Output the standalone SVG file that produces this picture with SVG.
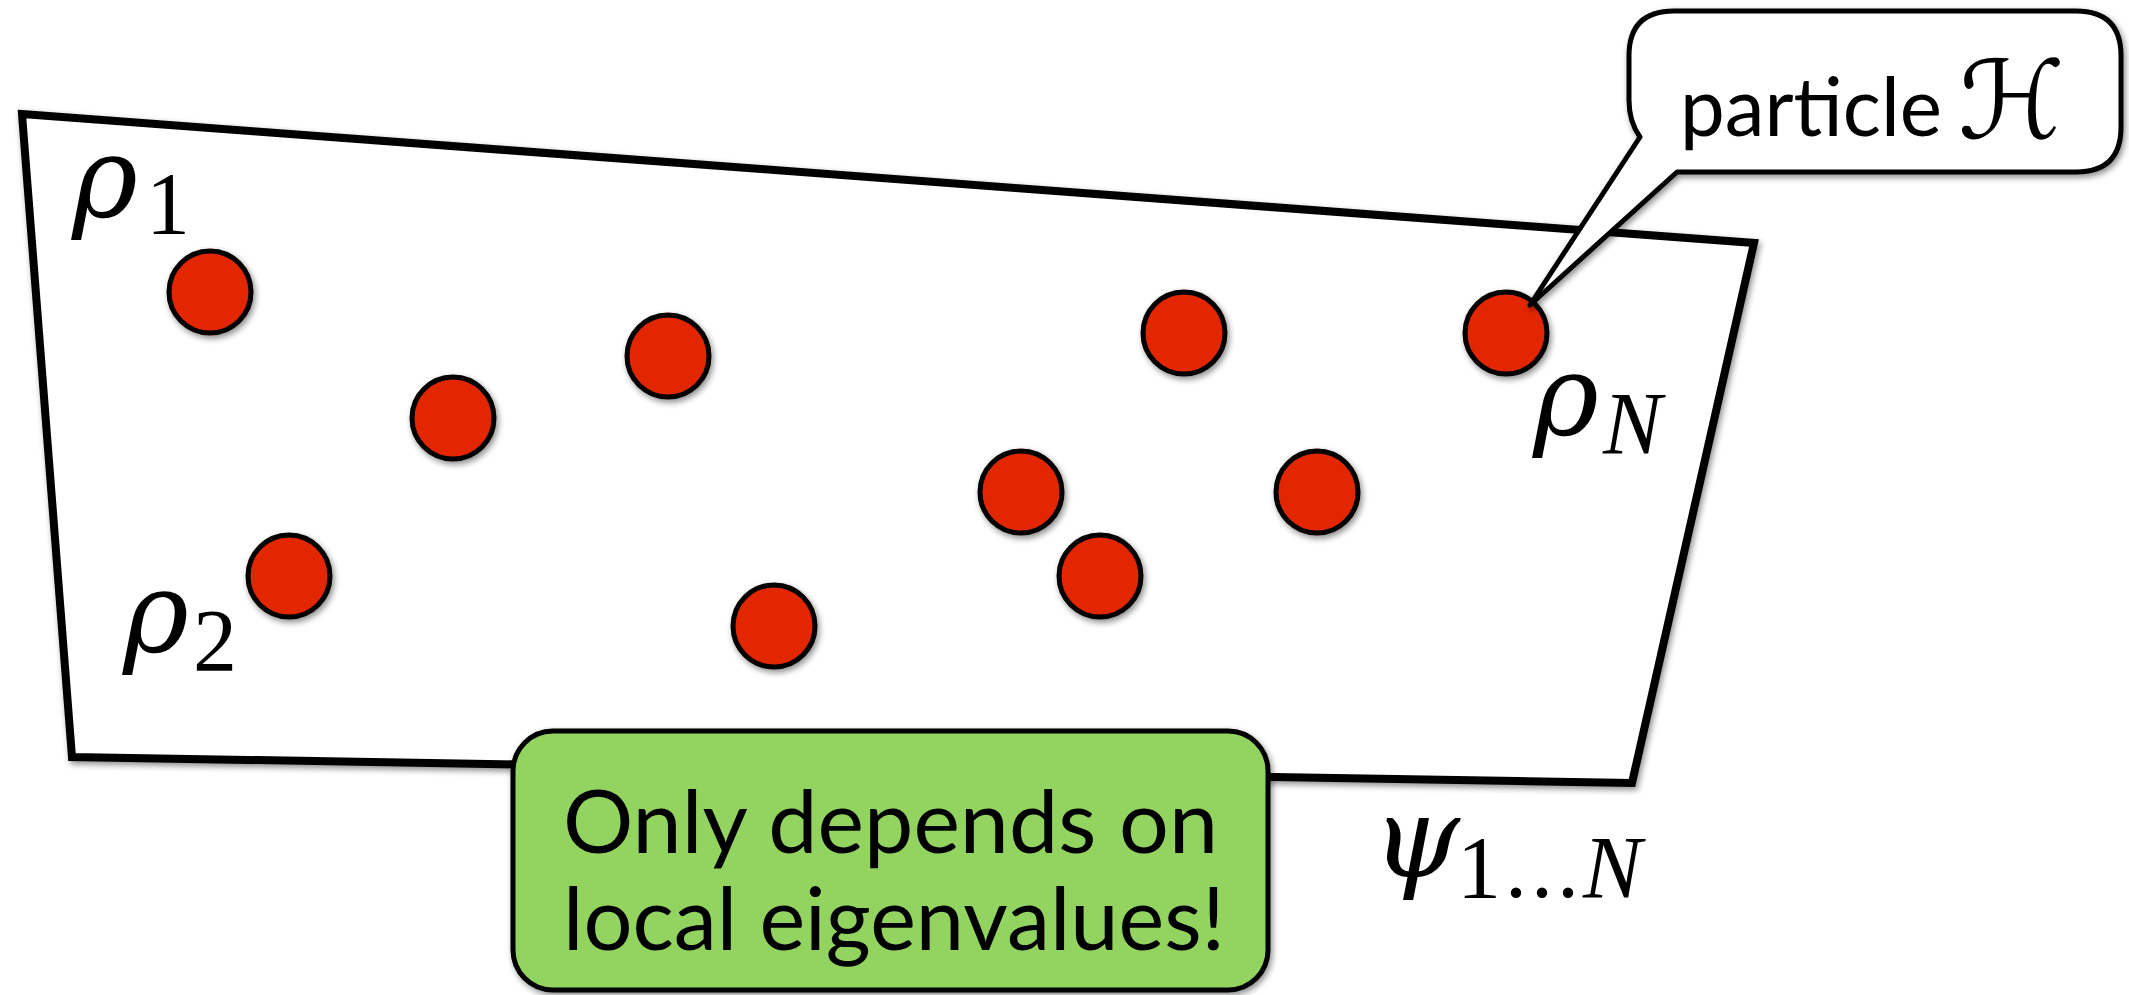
<svg xmlns="http://www.w3.org/2000/svg" width="2129" height="995" viewBox="0 0 2129 995">
<defs>
<filter id="sh" x="-10%" y="-10%" width="130%" height="130%">
<feGaussianBlur in="SourceAlpha" stdDeviation="3"/>
<feOffset dx="2" dy="3" result="b"/>
<feComponentTransfer><feFuncA type="linear" slope="0.45"/></feComponentTransfer>
<feMerge><feMergeNode/><feMergeNode in="SourceGraphic"/></feMerge>
</filter>
</defs>
<style>
.pt{fill:#e12600;stroke:#000;stroke-width:5}
.math{font-family:"Liberation Serif","Times New Roman",serif;fill:#000}
.gr{font-family:"DejaVu Serif",serif;font-style:italic}
.it{font-style:italic}
.sans{font-family:Lato,"Open Sans",sans-serif;fill:#000}
</style>
<rect width="2129" height="995" fill="#fff"/>
<g id="region">
<polygon points="22,114 1754,243 1632,783 72,757" fill="#fff" stroke="#000" stroke-width="8" stroke-linejoin="miter" filter="url(#sh)"/>
</g>
<g id="particles" filter="url(#sh)">
<circle id="p1" class="pt" cx="210" cy="292" r="41"/>
<circle id="p2" class="pt" cx="453" cy="418" r="41"/>
<circle id="p3" class="pt" cx="668" cy="356" r="41"/>
<circle id="p4" class="pt" cx="289" cy="576" r="41"/>
<circle id="p5" class="pt" cx="774" cy="626" r="41"/>
<circle id="p6" class="pt" cx="1184" cy="333" r="41"/>
<circle id="p7" class="pt" cx="1506" cy="333" r="41"/>
<circle id="p8" class="pt" cx="1021" cy="492" r="41"/>
<circle id="p9" class="pt" cx="1100" cy="576" r="41"/>
<circle id="p10" class="pt" cx="1317" cy="492" r="41"/>
</g>
<g id="labels">
<text class="math" x="72" y="217"><tspan class="gr" font-size="112">ρ</tspan><tspan font-size="88" x="146" y="233">1</tspan></text>
<text class="math" x="123" y="652"><tspan class="gr" font-size="112">ρ</tspan><tspan font-size="88" x="193" y="670">2</tspan></text>
<text class="math" x="1533" y="435"><tspan class="gr" font-size="112">ρ</tspan><tspan class="it" font-size="88" x="1603" y="453">N</tspan></text>
<text class="math" x="1372" y="877"><tspan class="gr" font-size="112">ψ</tspan><tspan font-size="88" x="1457" y="897" letter-spacing="4">1...</tspan><tspan class="it" font-size="88">N</tspan></text>
</g>
<g id="callout">
<path d="M1674,11 H2076 Q2121,11 2121,56 V127 Q2121,172 2076,172 H1677 L1530,305 L1640,137 Q1629,122 1629,100 V56 Q1629,11 1674,11 Z" fill="#fff" stroke="#000" stroke-width="5" stroke-linejoin="round" filter="url(#sh)"/>
<text class="sans" x="1680" y="136" font-size="82" textLength="262" lengthAdjust="spacingAndGlyphs">particle</text>
<text x="1958" y="138" font-size="108" font-family="DejaVu Serif, DejaVu Sans, serif">ℋ</text>
</g>
<g id="note">
<rect x="513" y="731" width="755" height="259" rx="40" fill="#93d360" stroke="#000" stroke-width="5" filter="url(#sh)"/>
<text class="sans" x="563" y="853" font-size="88" textLength="655" lengthAdjust="spacingAndGlyphs">Only depends on</text>
<text class="sans" x="563" y="950" font-size="88" textLength="662" lengthAdjust="spacingAndGlyphs">local eigenvalues!</text>
</g>
</svg>
